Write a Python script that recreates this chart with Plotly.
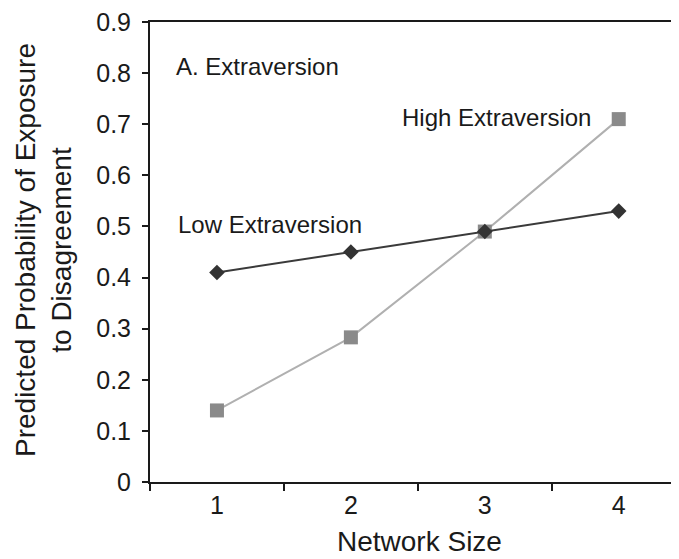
import plotly.graph_objects as go

network_size = ["1", "2", "3", "4"]
low_extraversion = [0.41, 0.45, 0.49, 0.53]
high_extraversion = [0.14, 0.283, 0.49, 0.71]
y_tick_vals = [0, 0.1, 0.2, 0.3, 0.4, 0.5, 0.6, 0.7, 0.8, 0.9]
y_tick_text = ["0", "0.1", "0.2", "0.3", "0.4", "0.5", "0.6", "0.7", "0.8", "0.9"]

FONT = "Liberation Sans, Arial, Helvetica, sans-serif"
INK = "#1a1a1a"

fig = go.Figure()
fig.add_trace(go.Scatter(
    x=network_size, y=high_extraversion, mode="lines+markers",
    line=dict(color="#b0b0b0", width=2),
    marker=dict(symbol="square", size=14, color="#8a8a8a"),
    showlegend=False, cliponaxis=False,
))
fig.add_trace(go.Scatter(
    x=network_size, y=low_extraversion, mode="lines+markers",
    line=dict(color="#3a3a3a", width=2),
    marker=dict(symbol="diamond", size=12, color="#333333"),
    showlegend=False, cliponaxis=False,
))

# plot area in page pixels: x 150..679, y 18..482
PX0, PW, PY1, PH = 150, 529, 482, 464

annotations = [
    dict(text="A. Extraversion", xref="paper", yref="paper", x=(174 - PX0) / PW,
         y=(PY1 - 63) / PH, xanchor="left", yanchor="middle", showarrow=False,
         font=dict(size=24, color=INK, family=FONT)),
    dict(text="High Extraversion", xref="paper", yref="paper", x=(593 - PX0) / PW,
         y=(PY1 - 114) / PH, xanchor="right", yanchor="middle", showarrow=False,
         font=dict(size=24, color=INK, family=FONT)),
    dict(text="Low Extraversion", xref="paper", yref="paper", x=(176 - PX0) / PW,
         y=(PY1 - 222) / PH, xanchor="left", yanchor="middle", showarrow=False,
         font=dict(size=24, color=INK, family=FONT)),
    dict(text="Network Size", xref="paper", yref="paper", x=(419.5 - PX0) / PW,
         y=(PY1 - 542) / PH, xanchor="center", yanchor="middle", showarrow=False,
         font=dict(size=28, color=INK, family=FONT)),
    dict(text="Predicted Probability of Exposure<br>to Disagreement", xref="paper", yref="paper",
         x=(43 - PX0) / PW, y=(PY1 - 248) / PH, xanchor="center", yanchor="middle",
         textangle=-90, showarrow=False,
         font=dict(size=28, color=INK, family=FONT)),
]

# page body has an 8px default margin, so the figure starts at (8, 8)
fig.update_layout(
    width=671, height=551,
    margin=dict(l=142, r=0, t=10, b=77),
    paper_bgcolor="white", plot_bgcolor="white",
    font=dict(family=FONT, color=INK),
    annotations=annotations,
    xaxis=dict(
        type="category", range=[-0.5, 3.45],
        showline=True, linecolor=INK, linewidth=2, mirror=True,
        ticks="outside", tickson="boundaries", ticklen=7, tickwidth=2, tickcolor=INK,
        showgrid=False, zeroline=False,
        tickfont=dict(size=25, color=INK, family=FONT),
    ),
    yaxis=dict(
        range=[0, 0.9], tickvals=y_tick_vals, ticktext=y_tick_text,
        showline=True, linecolor=INK, linewidth=2,
        ticks="outside", ticklen=6, tickwidth=2, tickcolor=INK,
        showgrid=False, zeroline=False, ticklabelstandoff=6,
        ticklabeloverflow="allow",
        tickfont=dict(size=25, color=INK, family=FONT),
    ),
)

fig.write_html("out.html")
